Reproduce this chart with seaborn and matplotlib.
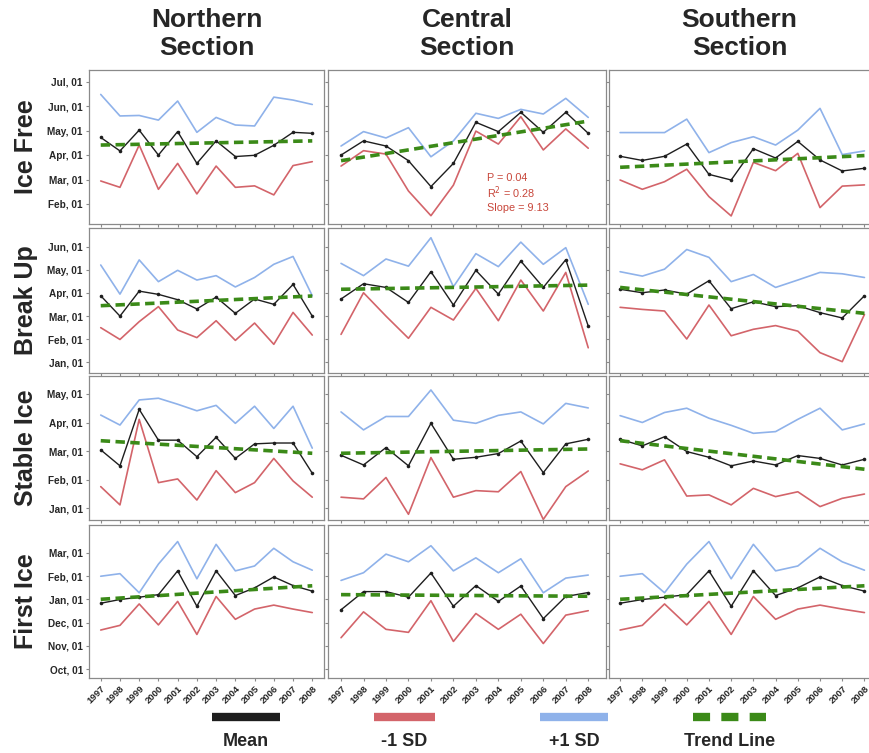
import matplotlib
matplotlib.use("Agg")
import matplotlib.pyplot as plt
import seaborn as sns
import pandas as pd
from matplotlib.lines import Line2D

sns.set_style("white")
plt.rcParams["font.family"] = ["Liberation Sans", "DejaVu Sans"]

years = list(range(1997, 2009))
sections = ["Northern\nSection", "Central\nSection", "Southern\nSection"]
events = ["Ice Free", "Break Up", "Stable Ice", "First Ice"]

# Values in month units (2 = Feb 01, 3 = Mar 01 ...; First Ice: 13 = Jan 01 of next year)
# ---- Ice Free ----
if_n_mean = [4.72, 4.17, 5.02, 4.00, 4.96, 3.66, 4.58, 3.94, 3.99, 4.40, 4.93, 4.89]
if_n_hi = [6.48, 5.60, 5.62, 5.43, 6.21, 4.93, 5.54, 5.23, 5.19, 6.37, 6.25, 6.07]
if_n_lo = [2.94, 2.68, 4.41, 2.60, 3.66, 2.41, 3.55, 2.68, 2.74, 2.37, 3.57, 3.73]
if_c_mean = [4.00, 4.58, 4.37, 3.77, 2.71, 3.66, 5.34, 4.96, 5.75, 4.93, 5.75, 4.89]
if_c_hi = [4.37, 4.96, 4.70, 5.12, 3.93, 4.58, 5.71, 5.50, 5.87, 5.68, 6.32, 5.54]
if_c_lo = [3.55, 4.18, 4.04, 2.53, 1.52, 2.77, 4.98, 4.45, 5.57, 4.21, 5.07, 4.28]
if_s_mean = [3.95, 3.78, 3.95, 4.45, 3.21, 2.98, 4.26, 3.88, 4.56, 3.80, 3.35, 3.46]
if_s_hi = [4.92, 4.92, 4.92, 5.47, 4.10, 4.51, 4.75, 4.41, 5.02, 5.91, 4.02, 4.17]
if_s_lo = [2.98, 2.60, 2.91, 3.42, 2.30, 1.51, 3.70, 3.36, 4.07, 1.85, 2.73, 2.78]
# ---- Break Up ----
bu_n_mean = [3.88, 3.00, 4.08, 3.94, 3.71, 3.31, 3.82, 3.12, 3.74, 3.51, 4.37, 3.00]
bu_n_hi = [5.21, 3.95, 5.43, 4.49, 4.98, 4.56, 4.75, 4.26, 4.67, 5.24, 5.58, 3.88]
bu_n_lo = [2.50, 1.99, 2.76, 3.41, 2.40, 2.07, 2.80, 1.95, 2.70, 1.78, 3.16, 2.18]
bu_c_mean = [3.74, 4.40, 4.24, 3.59, 4.92, 3.48, 4.98, 3.95, 5.38, 4.24, 5.44, 2.57]
bu_c_hi = [5.28, 4.75, 5.47, 5.16, 6.39, 4.27, 5.70, 5.14, 6.20, 5.24, 5.96, 3.51]
bu_c_lo = [2.21, 4.01, 3.00, 2.04, 3.38, 2.83, 4.20, 2.80, 4.56, 3.22, 4.89, 1.63]
bu_s_mean = [4.16, 4.01, 4.13, 3.95, 4.53, 3.32, 3.62, 3.41, 3.45, 3.15, 2.92, 3.88]
bu_s_hi = [4.92, 4.73, 5.03, 5.88, 5.54, 4.49, 4.80, 4.24, 4.56, 4.89, 4.83, 4.67]
bu_s_lo = [3.38, 3.29, 3.22, 2.01, 3.48, 2.15, 2.43, 2.59, 2.35, 1.42, 1.03, 3.07]
# ---- Stable Ice ----
si_n_mean = [3.05, 2.49, 4.47, 3.39, 3.39, 2.81, 3.49, 2.75, 3.26, 3.29, 3.29, 2.23]
si_n_hi = [4.27, 3.92, 4.80, 4.86, 4.65, 4.42, 4.61, 3.98, 4.58, 3.80, 4.58, 3.11]
si_n_lo = [1.76, 1.12, 4.12, 1.90, 2.03, 1.29, 2.32, 1.55, 1.90, 2.75, 1.96, 1.39]
si_c_mean = [2.86, 2.52, 3.13, 2.49, 3.98, 2.72, 2.79, 2.92, 3.36, 2.25, 3.26, 3.42]
si_c_hi = [4.38, 3.75, 4.22, 4.22, 5.15, 4.09, 3.98, 4.26, 4.38, 3.96, 4.68, 4.52]
si_c_lo = [1.39, 1.33, 2.08, 0.79, 2.78, 1.39, 1.62, 1.58, 2.29, 0.61, 1.76, 2.31]
si_s_mean = [3.42, 3.19, 3.51, 2.99, 2.79, 2.49, 2.66, 2.52, 2.85, 2.75, 2.52, 2.72]
si_s_hi = [4.25, 4.01, 4.36, 4.51, 4.16, 3.91, 3.63, 3.69, 4.12, 4.51, 3.75, 3.96]
si_s_lo = [2.56, 2.35, 2.70, 1.43, 1.47, 1.12, 1.70, 1.41, 1.58, 1.06, 1.35, 1.50]
# ---- First Ice ----
fi_n_mean = [12.83, 12.99, 13.09, 13.20, 14.22, 12.70, 14.22, 13.16, 13.49, 13.96, 13.59, 13.35]
fi_n_hi = [13.99, 14.10, 13.28, 14.51, 15.48, 13.88, 15.36, 14.22, 14.43, 15.19, 14.61, 14.25]
fi_n_lo = [11.68, 11.88, 12.80, 11.90, 12.91, 11.49, 13.12, 12.14, 12.58, 12.75, 12.58, 12.43]
fi_c_mean = [12.55, 13.33, 13.33, 13.09, 14.13, 12.70, 13.59, 12.91, 13.57, 12.17, 13.12, 13.29]
fi_c_hi = [13.81, 14.14, 14.94, 14.61, 15.30, 14.22, 14.78, 14.14, 14.74, 13.28, 13.91, 14.04]
fi_c_lo = [11.35, 12.46, 11.71, 11.58, 12.94, 11.19, 12.39, 11.71, 12.36, 11.10, 12.32, 12.51]
fi_s_mean = [12.83, 12.99, 13.09, 13.20, 14.22, 12.70, 14.22, 13.16, 13.49, 13.96, 13.59, 13.35]
fi_s_hi = [13.99, 14.10, 13.28, 14.51, 15.48, 13.88, 15.36, 14.22, 14.43, 15.19, 14.61, 14.25]
fi_s_lo = [11.68, 11.88, 12.80, 11.90, 12.91, 11.49, 13.12, 12.14, 12.58, 12.75, 12.58, 12.43]

# Trend line values at 1997 and 2008
trend_if = [[4.41, 4.58], [3.77, 5.39], [3.50, 3.98]]
trend_bu = [[3.45, 3.87], [4.16, 4.34], [4.24, 3.12]]
trend_si = [[3.37, 2.93], [2.93, 3.08], [3.37, 2.37]]
trend_fi = [[13.00, 13.58], [13.20, 13.13], [13.00, 13.58]]

# Y tick labels per row
ticks_if = [2, 3, 4, 5, 6, 7]
labels_if = ["Feb, 01", "Mar, 01", "Apr, 01", "May, 01", "Jun, 01", "Jul, 01"]
ticks_bu = [1, 2, 3, 4, 5, 6]
labels_bu = ["Jan, 01", "Feb, 01", "Mar, 01", "Apr, 01", "May, 01", "Jun, 01"]
ticks_si = [1, 2, 3, 4, 5]
labels_si = ["Jan, 01", "Feb, 01", "Mar, 01", "Apr, 01", "May, 01"]
ticks_fi = [10, 11, 12, 13, 14, 15]
labels_fi = ["Oct, 01", "Nov, 01", "Dec, 01", "Jan, 01", "Feb, 01", "Mar, 01"]

stats_text = ["P = 0.04", "R$^2$ = 0.28", "Slope = 9.13"]

legend_labels = ["Mean", "-1 SD", "+1 SD", "Trend Line"]

data = {
    0: [(if_n_mean, if_n_lo, if_n_hi), (if_c_mean, if_c_lo, if_c_hi), (if_s_mean, if_s_lo, if_s_hi)],
    1: [(bu_n_mean, bu_n_lo, bu_n_hi), (bu_c_mean, bu_c_lo, bu_c_hi), (bu_s_mean, bu_s_lo, bu_s_hi)],
    2: [(si_n_mean, si_n_lo, si_n_hi), (si_c_mean, si_c_lo, si_c_hi), (si_s_mean, si_s_lo, si_s_hi)],
    3: [(fi_n_mean, fi_n_lo, fi_n_hi), (fi_c_mean, fi_c_lo, fi_c_hi), (fi_s_mean, fi_s_lo, fi_s_hi)],
}
trends = [trend_if, trend_bu, trend_si, trend_fi]
row_ticks = [(ticks_if, labels_if), (ticks_bu, labels_bu), (ticks_si, labels_si), (ticks_fi, labels_fi)]

# ---------- layout (pixels) ----------
W, H = 870, 753
col_px = [(89, 324), (328, 606), (609, 870)]
col_xlim = [(1996.39, 2008.61), (1996.42, 2008.79), (1996.5, 2008.25)]
row_px = [(70, 224), (228, 373), (376, 520), (525, 678)]
row_ylim = [(1.18, 7.48), (0.54, 6.81), (0.59, 5.64), (9.62, 16.19)]

C_MEAN = "#1e1e1e"
C_LO = "#d3646a"
C_HI = "#8fb2ea"
C_TR = "#3b8a18"
C_SPINE = "#8a8a8a"

fig = plt.figure(figsize=(W / 100, H / 100), dpi=100)

for r in range(4):
    for c in range(3):
        x0, x1 = col_px[c]
        y0, y1 = row_px[r]
        ax = fig.add_axes([x0 / W, 1 - y1 / H, (x1 - x0) / W, (y1 - y0) / H])
        mean, lo, hi = data[r][c]
        sns.lineplot(x=years, y=hi, ax=ax, color=C_HI, lw=1.2, legend=False)
        sns.lineplot(x=years, y=lo, ax=ax, color=C_LO, lw=1.2, legend=False)
        sns.lineplot(x=years, y=mean, ax=ax, color=C_MEAN, lw=1.0, marker="o",
                     markersize=2.6, markeredgewidth=0, legend=False)
        sns.lineplot(x=[years[0], years[-1]], y=trends[r][c], ax=ax, color=C_TR,
                     lw=2.6, legend=False).lines[-1].set_dashes([2.6, 1.5])
        ax.set_xlim(*col_xlim[c])
        ax.set_ylim(*row_ylim[r])
        tks, lbls = row_ticks[r]
        ax.set_yticks(tks)
        ax.set_xticks(years)
        if c == 0:
            ax.set_yticklabels(lbls, fontsize=7.2, fontweight="bold")
        else:
            ax.set_yticklabels([])
        if r == 3:
            ax.set_xticklabels([str(y) for y in years], rotation=45, ha="right",
                               rotation_mode="anchor", fontsize=6.8, fontweight="bold")
        else:
            ax.set_xticklabels([])
        ax.tick_params(axis="both", direction="out", length=2.5, width=0.8,
                       color=C_SPINE, pad=2, left=True, bottom=True)
        for s in ax.spines.values():
            s.set_color(C_SPINE)
            s.set_linewidth(0.9)
        if c == 2:
            ax.spines["right"].set_visible(False)
        ax.set_xlabel("")
        ax.set_ylabel("")
        if r == 0 and c == 1:
            for i, t in enumerate(stats_text):
                fig.text(487 / W, 1 - (178 + 15 * i) / H, t, color="#c8463a",
                         fontsize=7.8, va="center", ha="left")

# column titles
for c in range(3):
    x0, x1 = col_px[c]
    fig.text(((x0 + x1) / 2) / W, 1 - 34 / H, sections[c], ha="center", va="center",
             fontsize=19, fontweight="bold", linespacing=1.2)

# row labels
for r in range(4):
    y0, y1 = row_px[r]
    fig.text(26 / W, 1 - ((y0 + y1) / 2) / H, events[r], rotation=90, ha="center",
             va="center", fontsize=18, fontweight="bold")

# legend
sw_y = 1 - 717 / H
legend_x = [(212, 280), (374, 435), (540, 608), (693, 766)]
legend_cols = [C_MEAN, C_LO, C_HI, C_TR]
for i, (a, b) in enumerate(legend_x):
    ln = Line2D([a / W, b / W], [sw_y, sw_y], transform=fig.transFigure,
                color=legend_cols[i], lw=6, solid_capstyle="butt")
    if i == 3:
        ln.set_dashes([2.05, 1.35])
        ln.set_dash_capstyle("butt")
    fig.add_artist(ln)
    fig.text(((a + b) / 2) / W, 1 - 742 / H, legend_labels[i], ha="center",
             va="center", fontsize=13, fontweight="bold")

fig.savefig("out.png", dpi=100)
